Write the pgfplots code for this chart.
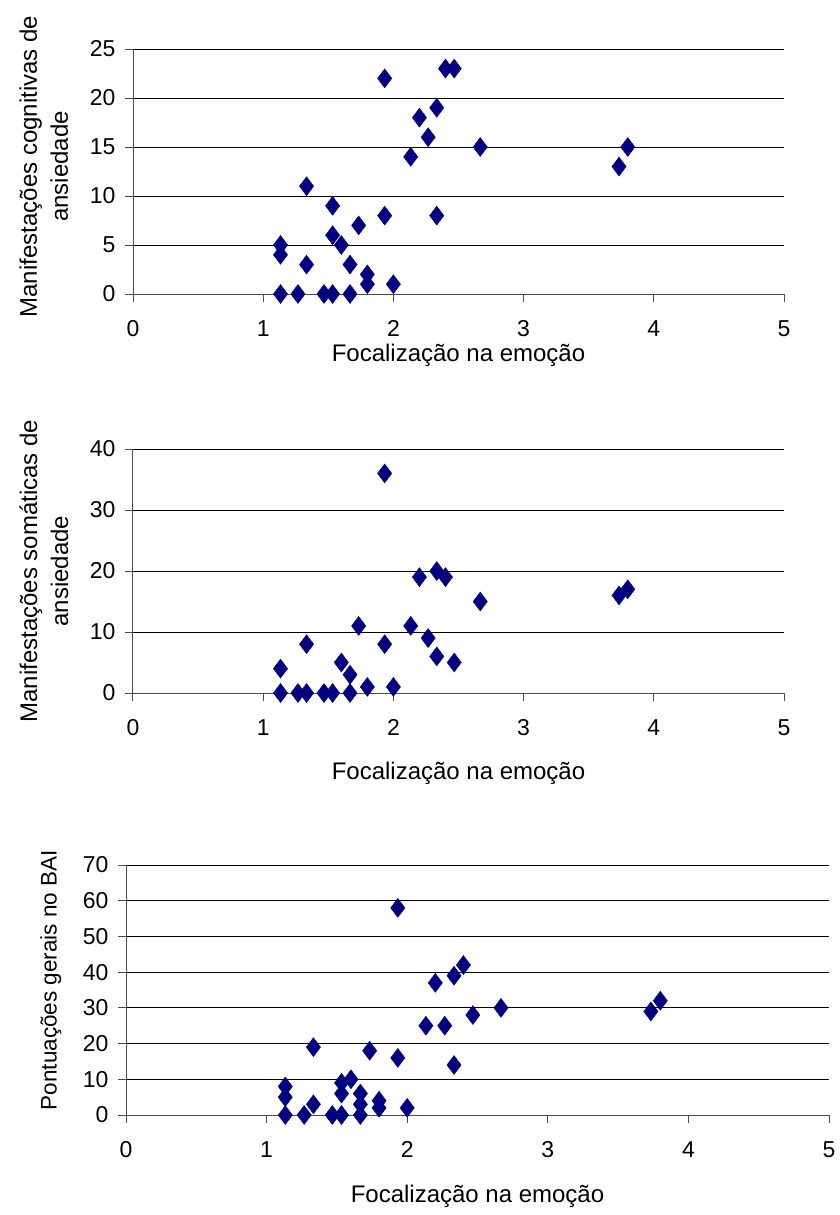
\documentclass[border=0pt]{standalone}
\usepackage{fontspec}
\setmainfont{Liberation Sans}
\usepackage{pgfplots}
\pgfplotsset{compat=1.18}
\definecolor{marknavy}{RGB}{0,0,128}

\newcommand{\labelfont}{\fontsize{24}{31}\selectfont}

\pgfplotsset{
  panel/.style={
    scale only axis,
    axis lines=left,
    axis line style={-, black!70, line width=1pt},
    xmin=0, xmax=5, xtick={0,1,2,3,4,5},
    ymin=0,
    ymajorgrids,
    major grid style={black, line width=0.9pt},
    tick align=outside,
    major tick length=8pt,
    tick style={black!70, line width=1pt},
    /pgf/number format/assume math mode=true,
    ticklabel style={font=\fontsize{23}{27}\selectfont},
    xticklabel style={anchor=base, yshift=-34pt},
    yticklabel style={anchor=east, xshift=-6pt},
    clip=false,
  },
  scatter/.style={
    only marks, mark=diamond*, mark size=9.5pt,
    mark options={fill=marknavy, draw=marknavy, line width=0.4pt},
  },
}

\begin{document}
\begin{tikzpicture}
\path[use as bounding box] (0,0) rectangle (839pt,-1215pt);

% Cognitive manifestations vs. emotion focus
\begin{axis}[panel,
  at={(133pt,-294pt)}, anchor=south west,
  width=651pt, height=245pt,
  ymax=25, ytick={0,5,10,15,20,25},
  xlabel={Focalização na emoção},
  xlabel style={at={(axis description cs:0.5,-0.25)}, anchor=center, font=\labelfont},
  ylabel={Manifestações cognitivas de\\ansiedade},
  ylabel style={at={(axis description cs:-0.137,0.52)}, rotate=0, anchor=center,
    align=center, font=\labelfont},
]
\addplot[scatter] coordinates {
  (1.133,5) (1.133,4) (1.133,0) (1.267,0) (1.333,11) (1.333,3)
  (1.467,0) (1.533,9) (1.533,6) (1.533,0) (1.600,5) (1.667,3)
  (1.667,0) (1.733,7) (1.800,2) (1.800,1) (1.933,22) (1.933,8)
  (2.000,1) (2.133,14) (2.200,18) (2.267,16) (2.333,19) (2.333,8)
  (2.400,23) (2.467,23) (2.667,15) (3.733,13) (3.800,15)
};
\end{axis}

% Somatic manifestations vs. emotion focus
\begin{axis}[panel,
  at={(133pt,-693pt)}, anchor=south west,
  width=651pt, height=244pt,
  ymax=40, ytick={0,10,20,30,40},
  xlabel={Focalização na emoção},
  xlabel style={at={(axis description cs:0.5,-0.328)}, anchor=center, font=\labelfont},
  ylabel={Manifestações somáticas de\\ansiedade},
  ylabel style={at={(axis description cs:-0.137,0.5)}, rotate=0, anchor=center,
    align=center, font=\labelfont},
]
\addplot[scatter] coordinates {
  (1.133,4) (1.133,0) (1.267,0) (1.333,8) (1.333,0) (1.467,0)
  (1.533,0) (1.600,5) (1.667,3) (1.667,0) (1.733,11) (1.800,1)
  (1.933,36) (1.933,8) (2.000,1) (2.133,11) (2.200,19) (2.267,9)
  (2.333,20) (2.333,6) (2.400,19) (2.467,5) (2.667,15) (3.733,16)
  (3.800,17)
};
\end{axis}

% Total BAI scores vs. emotion focus
\begin{axis}[panel,
  at={(126pt,-1115pt)}, anchor=south west,
  width=703pt, height=250pt,
  ymax=70, ytick={0,10,20,30,40,50,60,70},
  xlabel={Focalização na emoção},
  xlabel style={at={(axis description cs:0.5,-0.324)}, anchor=center, font=\labelfont},
  ylabel={Pontuações gerais no BAI},
  ylabel style={at={(axis description cs:-0.107,0.54)}, rotate=0, anchor=center,
    font=\fontsize{22.5}{27}\selectfont},
]
\addplot[scatter] coordinates {
  (1.133,8) (1.133,5) (1.133,0) (1.267,0) (1.333,19) (1.333,3)
  (1.467,0) (1.533,9) (1.533,6) (1.533,0) (1.600,10) (1.667,6)
  (1.667,3) (1.667,0) (1.733,18) (1.800,4) (1.800,2) (1.933,58)
  (1.933,16) (2.000,2) (2.133,25) (2.200,37) (2.267,25) (2.333,39)
  (2.333,14) (2.400,42) (2.467,28) (2.667,30) (3.733,29) (3.800,32)
};
\end{axis}
\end{tikzpicture}
\end{document}
